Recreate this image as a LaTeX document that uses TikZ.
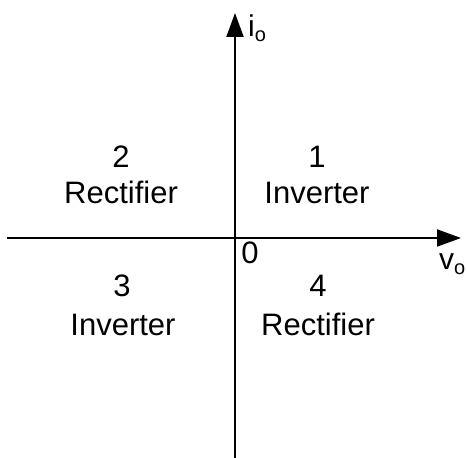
\documentclass[tikz,border=0pt]{standalone}
\usepackage{fontspec}
\setmainfont{Liberation Sans}
\usetikzlibrary{arrows.meta}
\begin{document}
\begin{tikzpicture}[x=1pt,y=1pt,
  axis/.style={line width=2pt,-{Triangle[length=24pt,width=17pt]}},
  lbl/.style={inner sep=0pt,anchor=base,font=\fontsize{31}{36}\selectfont},
  axlbl/.style={inner sep=0pt,anchor=base west,font=\fontsize{30}{36}\selectfont}]
\useasboundingbox (0,0) rectangle (467,458);
\coordinate (vbot) at (235,0);
\coordinate (vtop) at (235,445);
\coordinate (hleft) at (7,220);
\coordinate (hright) at (461,220);
\draw[axis] (vbot) -- (vtop);
\draw[axis] (hleft) -- (hright);
\node[lbl] (q2n) at (121,290) {2};
\node[lbl] (q2t) at (121,254) {Rectifier};
\node[lbl] (q1n) at (317,290) {1};
\node[lbl] (q1t) at (317,254) {Inverter};
\node[lbl] (q3n) at (122,161) {3};
\node[lbl] (q3t) at (123,122) {Inverter};
\node[lbl] (q4n) at (318,161) {4};
\node[lbl] (q4t) at (318,122) {Rectifier};
\node[lbl] (zero) at (250,194) {0};
\node[axlbl] (io) at (248,421) {i\raisebox{-5pt}{\fontsize{20}{20}\selectfont o}};
\node[axlbl] (vo) at (439,188) {v\raisebox{-5pt}{\fontsize{20}{20}\selectfont o}};
\end{tikzpicture}
\end{document}
